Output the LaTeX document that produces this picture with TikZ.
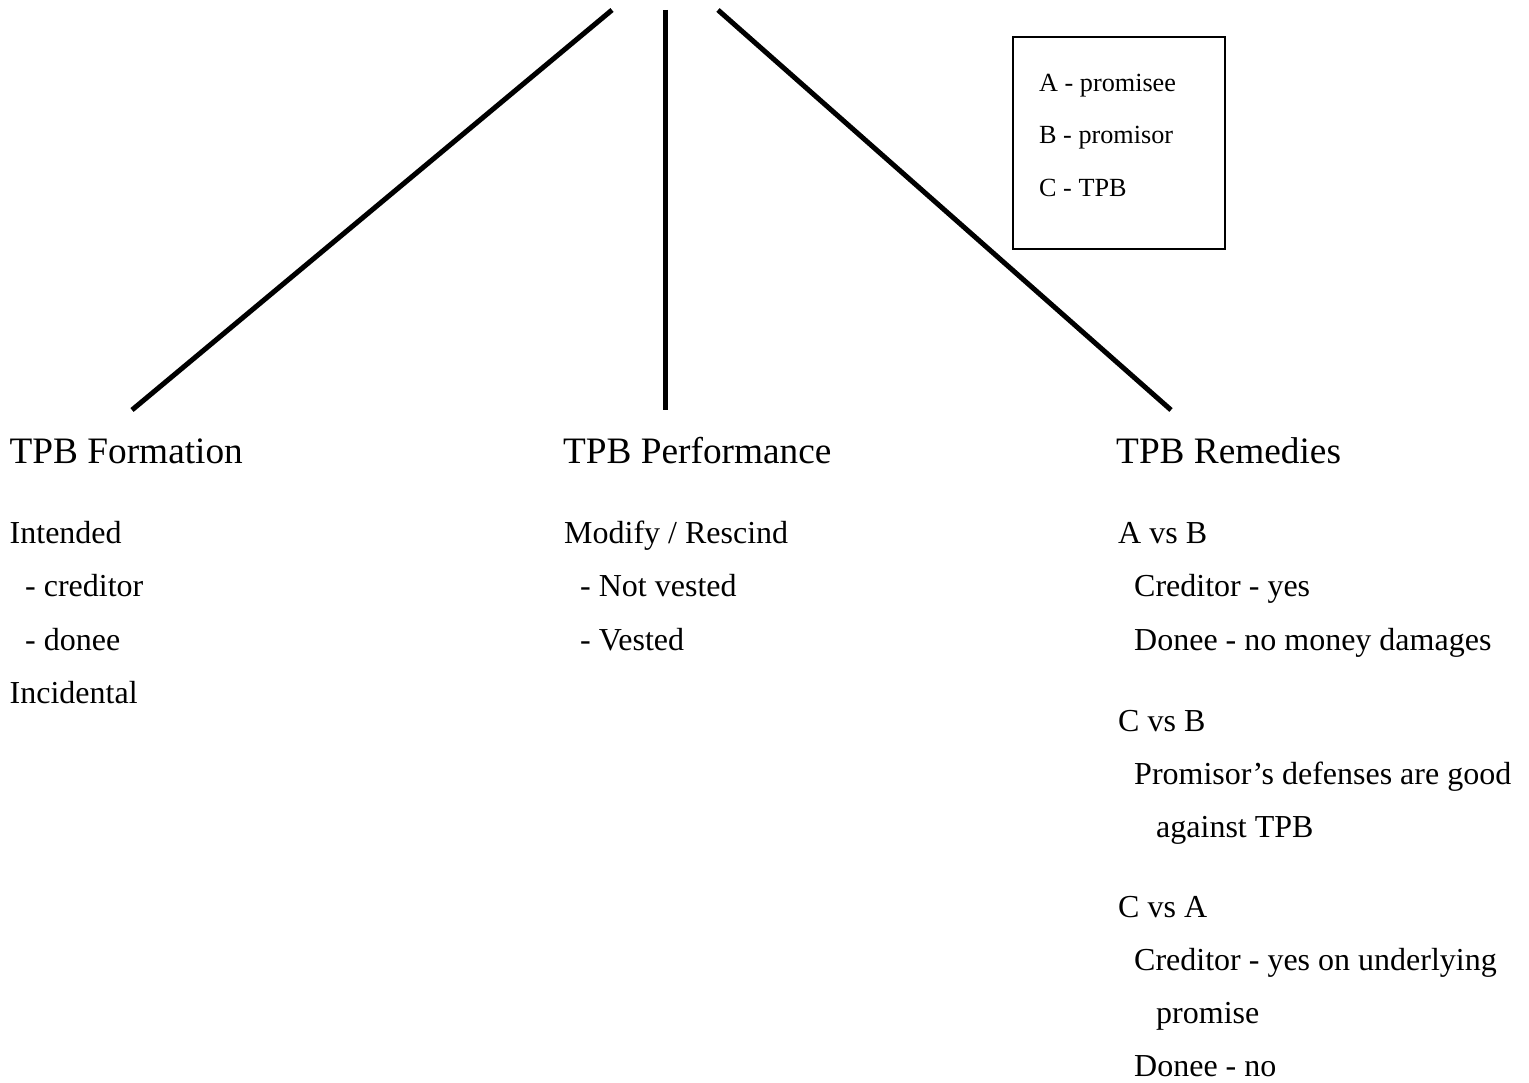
\documentclass[tikz,border=0pt]{standalone}
\usepackage{fontspec}
\setmainfont{Liberation Serif}
\begin{document}
\begin{tikzpicture}[x=1pt,y=-1pt,
  branch/.style={line width=5pt},
  head/.style={anchor=base west,inner sep=0pt,font=\fontsize{37.3}{41}\selectfont},
  body/.style={anchor=base west,inner sep=0pt,font=\fontsize{32}{36}\selectfont},
  legtext/.style={anchor=base west,inner sep=0pt,font=\fontsize{26.2}{29}\selectfont},
  legbox/.style={draw,line width=2pt}]
\useasboundingbox (0,0) rectangle (1529,1083);
% branches
\coordinate (ltop) at (612,10);
\coordinate (lbot) at (132,410);
\coordinate (mtop) at (665,10);
\coordinate (mbot) at (665,410);
\coordinate (rtop) at (718,10);
\coordinate (rbot) at (1171,410);
\draw[branch] (ltop) -- (lbot);
\draw[branch] (mtop) -- (mbot);
\draw[branch] (rtop) -- (rbot);
% legend
\node[legbox,minimum width=212pt,minimum height=212pt,inner sep=0pt] (leg) at (1118.5,143.5) {};
\node[legtext] (la) at (1039,91.5) {A - promisee};
\node[legtext] (lb) at (1039,144) {B - promisor};
\node[legtext] (lc) at (1039,196.5) {C - TPB};
% left column
\node[head] (h1) at (9.5,463.5) {TPB Formation};
\node[body] (f1) at (9.5,543) {Intended};
\node[body] (f2) at (25,596.5) {- creditor};
\node[body] (f3) at (25,650) {- donee};
\node[body] (f4) at (9.5,703) {Incidental};
% middle column
\node[head] (h2) at (563,463.5) {TPB Performance};
\node[body] (p1) at (564,543) {Modify / Rescind};
\node[body] (p2) at (580,596.5) {- Not vested};
\node[body] (p3) at (580,650) {- Vested};
% right column
\node[head] (h3) at (1116,463.5) {TPB Remedies};
\node[body] (r1) at (1118,543) {A vs B};
\node[body] (r2) at (1134,596.5) {Creditor - yes};
\node[body] (r3) at (1134,650) {Donee - no money damages};
\node[body] (r4) at (1118,731.5) {C vs B};
\node[body] (r5) at (1134,784.5) {Promisor’s defenses are good};
\node[body] (r6) at (1156,837.5) {against TPB};
\node[body] (r7) at (1118,917.5) {C vs A};
\node[body] (r8) at (1134,970.5) {Creditor - yes on underlying};
\node[body] (r9) at (1156,1023.5) {promise};
\node[body] (r10) at (1134,1076.5) {Donee - no};
\end{tikzpicture}
\end{document}
